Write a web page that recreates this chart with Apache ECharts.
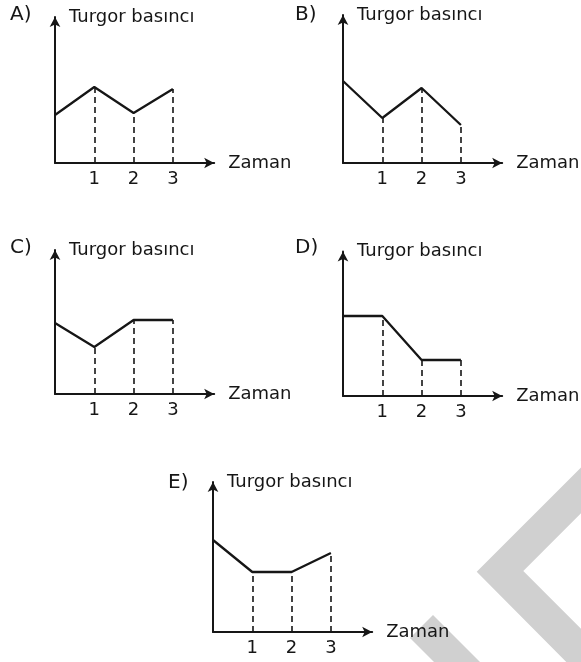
<!DOCTYPE html>
<html>
<head>
<meta charset="utf-8">
<script src="https://cdn.jsdelivr.net/npm/echarts@6/dist/echarts.min.js"></script>
<style>
  html, body { margin: 0; padding: 0; background: #ffffff; }
  #chart { width: 581px; height: 662px; }
</style>
</head>
<body>
<div id="chart"></div>
<script>
// Time steps on the horizontal axis and the ones that get a label
const timeSteps = [0, 1, 2, 3];
const tickLabels = [1, 2, 3];

// Turgor pressure at each time step, one list per answer option
const turgorA = [4.8, 7.6, 5.0, 7.4];
const turgorB = [8.2, 4.5, 7.5, 3.8];
const turgorC = [7.1, 4.7, 7.4, 7.4];
const turgorD = [8.0, 8.0, 3.6, 3.6];
const turgorE = [9.2, 6.0, 6.0, 7.9];

const optionLetters = ['A)', 'B)', 'C)', 'D)', 'E)'];
const yAxisName = 'Turgor basıncı';
const xAxisName = 'Zaman';

// Placement of the five small plots: origin (left, bottom) and top of the vertical axis
const panels = [
  { values: turgorA, left: 55,  bottom: 163, yTop: 14.6,  labelX: 10,  labelY: 15 },
  { values: turgorB, left: 343, bottom: 163, yTop: 14.8,  labelX: 295, labelY: 15 },
  { values: turgorC, left: 55,  bottom: 394, yTop: 14.4,  labelX: 10,  labelY: 248 },
  { values: turgorD, left: 343, bottom: 396, yTop: 14.45, labelX: 295, labelY: 248 },
  { values: turgorE, left: 213, bottom: 632, yTop: 15.0,  labelX: 168, labelY: 483 }
];

const X_MAX = 4.05;     // horizontal axis runs a little past t = 3
const X_UNIT = 39.3;    // pixels per time step
const Y_UNIT = 10;      // pixels per pressure unit
const INK = '#161616';
const FONT = 'DejaVu Sans';

const grids = [], xAxes = [], yAxes = [], series = [], graphics = [];

// Light grey chevron decoration in the lower right corner
graphics.push({
  type: 'polygon', z: -10, silent: true,
  shape: { points: [[600, 448.4], [476.7, 571.7], [566.3, 662], [600, 662], [600, 647.7], [523.3, 571], [600, 494.3]] },
  style: { fill: '#d0d0d0' }
});
graphics.push({
  type: 'polygon', z: -10, silent: true,
  shape: { points: [[433, 615], [480, 662], [434, 662], [410, 638]] },
  style: { fill: '#d0d0d0' }
});

panels.forEach((p, i) => {
  const h = p.yTop * Y_UNIT;
  grids.push({
    left: p.left, top: p.bottom - h,
    width: X_MAX * X_UNIT, height: h,
    containLabel: false
  });
  xAxes.push({
    gridIndex: i, type: 'value', min: 0, max: X_MAX, interval: 1,
    name: xAxisName, nameLocation: 'end', nameGap: 14,
    nameTextStyle: { color: INK, fontSize: 18, fontFamily: FONT },
    axisLine: { show: true, onZero: false, symbol: ['none', 'arrow'], symbolSize: [8, 10],
                lineStyle: { color: INK, width: 2 } },
    axisTick: { show: false },
    splitLine: { show: false },
    axisLabel: {
      show: true, margin: 7, color: INK, fontSize: 18, fontFamily: FONT,
      customValues: tickLabels,
      formatter: v => (tickLabels.includes(v) ? String(v) : '')
    }
  });
  yAxes.push({
    gridIndex: i, type: 'value', min: 0, max: p.yTop,
    name: yAxisName, nameLocation: 'end', nameGap: 0,
    nameTextStyle: { color: INK, fontSize: 18, fontFamily: FONT,
                     align: 'left', verticalAlign: 'middle', padding: [0, 0, 0, 14] },
    axisLine: { show: true, onZero: false, symbol: ['none', 'arrow'], symbolSize: [8, 10],
                lineStyle: { color: INK, width: 2 } },
    axisTick: { show: false },
    splitLine: { show: false },
    axisLabel: { show: false }
  });
  series.push({
    type: 'line', xAxisIndex: i, yAxisIndex: i, z: 3,
    data: timeSteps.map((t, k) => [t, p.values[k]]),
    symbol: 'none', silent: true, animation: false,
    lineStyle: { color: INK, width: 2.3 },
    markLine: {
      silent: true, symbol: 'none', animation: false,
      label: { show: false },
      lineStyle: { color: INK, width: 1.6, type: [6, 4] },
      data: tickLabels.map(t => [
        { coord: [t, 0] },
        { coord: [t, p.values[timeSteps.indexOf(t)]] }
      ])
    }
  });
  graphics.push({
    type: 'text', x: p.labelX, y: p.labelY, silent: true,
    style: { text: optionLetters[i], fill: INK, fontSize: 20, fontFamily: FONT,
             verticalAlign: 'middle', align: 'left' }
  });
});

const chart = echarts.init(document.getElementById('chart'), null, { renderer: 'canvas' });
chart.setOption({
  animation: false,
  backgroundColor: '#ffffff',
  grid: grids,
  xAxis: xAxes,
  yAxis: yAxes,
  series: series,
  graphic: graphics
});
</script>
</body>
</html>
